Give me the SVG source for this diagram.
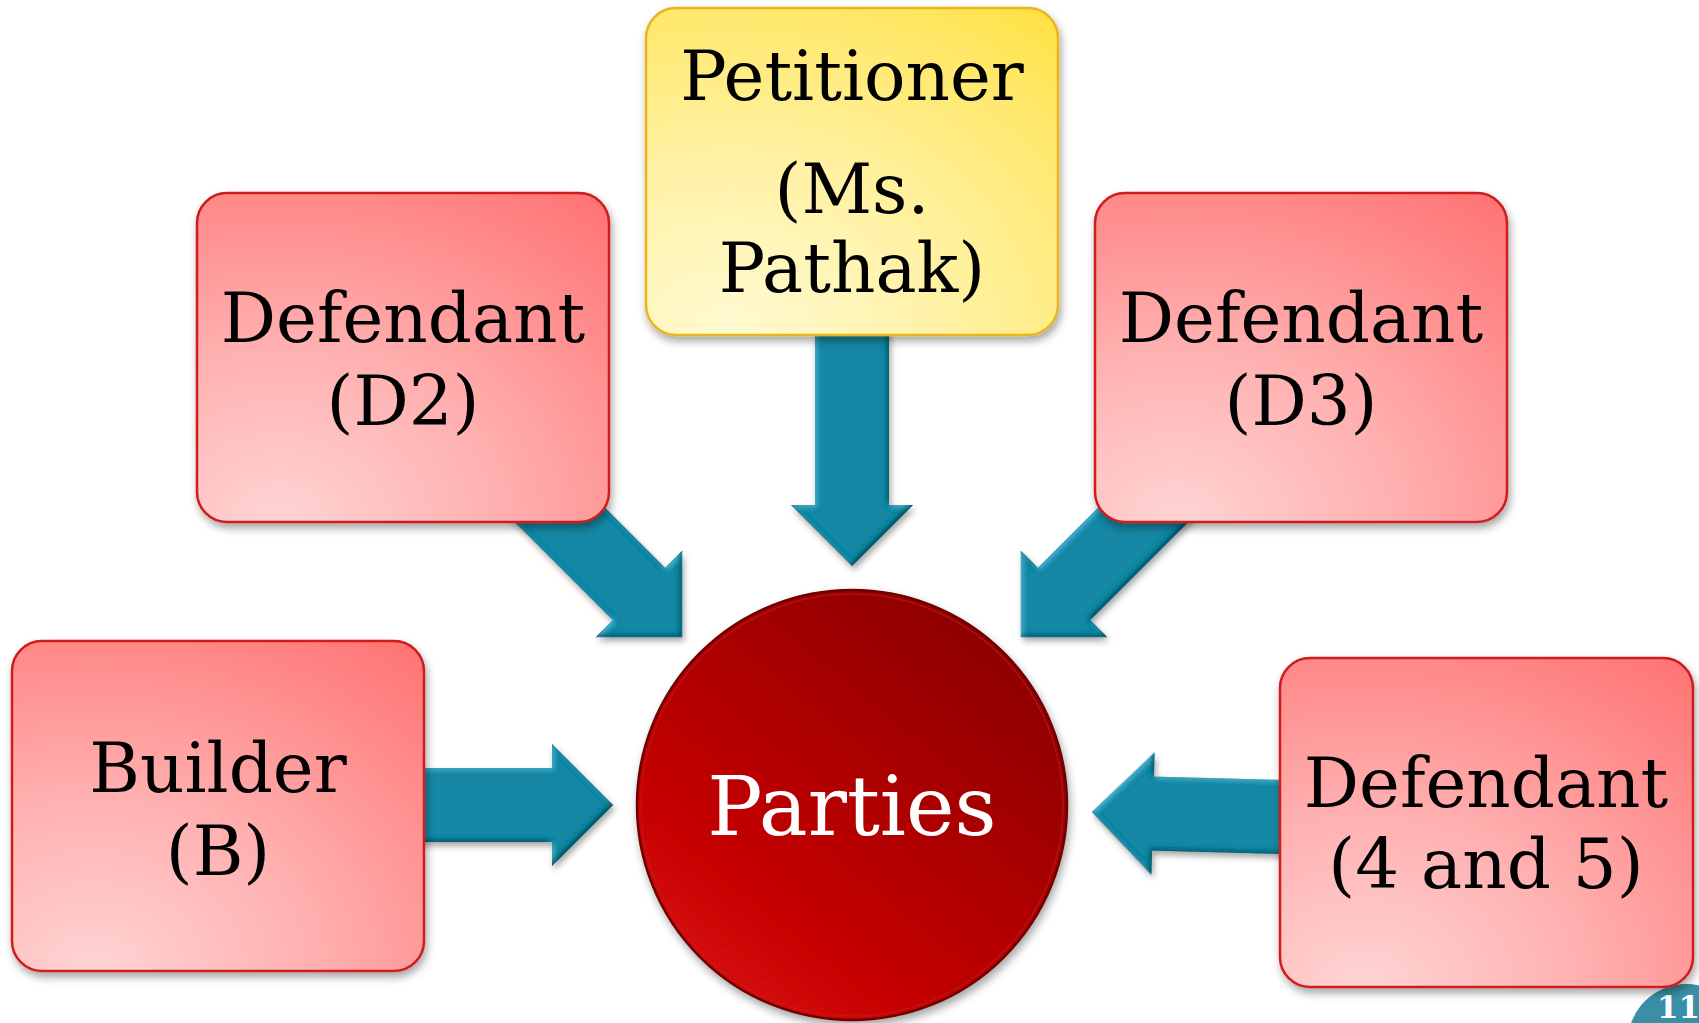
<svg xmlns="http://www.w3.org/2000/svg" xmlns:xlink="http://www.w3.org/1999/xlink" width="1699" height="1023" viewBox="0 0 1699 1023">
  <defs>
    <radialGradient id="redFill" cx="0.2" cy="1.0" r="1.3">
      <stop offset="0" stop-color="#ffd4d4"/>
      <stop offset="0.4" stop-color="#ffb1b1"/>
      <stop offset="0.8" stop-color="#ff8585"/>
      <stop offset="1" stop-color="#ff7070"/>
    </radialGradient>
    <radialGradient id="yellowFill" cx="0.2" cy="1.0" r="1.3">
      <stop offset="0" stop-color="#fffad2"/>
      <stop offset="0.4" stop-color="#fff2a6"/>
      <stop offset="0.8" stop-color="#ffe766"/>
      <stop offset="1" stop-color="#ffe03a"/>
    </radialGradient>
    <linearGradient id="hubFill" x1="0.2" y1="0.9" x2="0.85" y2="0.1">
      <stop offset="0" stop-color="#d40707"/>
      <stop offset="0.55" stop-color="#ad0404"/>
      <stop offset="1" stop-color="#8c0000"/>
    </linearGradient>
    <filter id="boxShadow" x="-10%" y="-10%" width="125%" height="125%">
      <feDropShadow dx="2" dy="5" stdDeviation="4" flood-color="#000" flood-opacity="0.35"/>
    </filter>
    <filter id="arrowBevel" x="-10%" y="-10%" width="125%" height="125%">
      <feComponentTransfer in="SourceAlpha" result="inv">
        <feFuncA type="table" tableValues="1 0"/>
      </feComponentTransfer>
      <feGaussianBlur in="inv" stdDeviation="2.5" result="invBlur"/>
      <feOffset in="invBlur" dx="-2" dy="-2" result="invOff"/>
      <feFlood flood-color="#06313b" flood-opacity="0.9"/>
      <feComposite in2="invOff" operator="in"/>
      <feComposite in2="SourceAlpha" operator="in" result="innerDark"/>
      <feOffset in="invBlur" dx="2" dy="2" result="invOff2"/>
      <feFlood flood-color="#5fd0ee" flood-opacity="0.55"/>
      <feComposite in2="invOff2" operator="in"/>
      <feComposite in2="SourceAlpha" operator="in" result="innerLight"/>
      <feGaussianBlur in="SourceAlpha" stdDeviation="3" result="sb"/>
      <feOffset in="sb" dx="2" dy="4" result="so"/>
      <feFlood flood-color="#000" flood-opacity="0.35"/>
      <feComposite in2="so" operator="in" result="drop"/>
      <feMerge>
        <feMergeNode in="drop"/>
        <feMergeNode in="SourceGraphic"/>
        <feMergeNode in="innerLight"/>
        <feMergeNode in="innerDark"/>
      </feMerge>
    </filter>
    <!-- block arrow pointing along +x, apex at the origin -->
    <path id="blockArrow" d="M0,0 L-61,-61 L-61,-37 L-261,-37 L-261,37 L-61,37 L-61,61 Z"/>
  </defs>

  <style>
    .box { stroke-width: 2.5; filter: url(#boxShadow); }
    .red { fill: url(#redFill); stroke: #cf1c1c; }
    .yellow { fill: url(#yellowFill); stroke: #e9b51d; }
    .label { font-family: "DejaVu Serif", "Liberation Serif", serif; font-size: 69px; fill: #000; text-anchor: middle; }
    .hubLabel { font-family: "DejaVu Serif", "Liberation Serif", serif; font-size: 82px; fill: #fff; text-anchor: middle; }
    .arrow { fill: #1588a5; }
    .pageNo { font-family: "DejaVu Serif", "Liberation Serif", serif; font-size: 31px; font-weight: bold; fill: #fff; }
  </style>

  <rect width="1699" height="1023" fill="#ffffff"/>

  <!-- slide number badge -->
  <g id="page-number">
    <circle cx="1686" cy="1042" r="58" fill="#3a8fa6"/>
    <text class="pageNo" x="1657" y="1018">11</text>
  </g>

  <!-- connectors -->
  <g id="connectors" filter="url(#arrowBevel)">
    <use xlink:href="#blockArrow" class="arrow" transform="translate(852,566) rotate(90)"/>
    <use xlink:href="#blockArrow" class="arrow" transform="translate(682,637) rotate(45)"/>
    <use xlink:href="#blockArrow" class="arrow" transform="translate(1021,637) rotate(135)"/>
    <use xlink:href="#blockArrow" class="arrow" transform="translate(613,805)"/>
    <use xlink:href="#blockArrow" class="arrow" transform="translate(1092,812) rotate(181.5)"/>
  </g>

  <g id="node-hub">
    <circle cx="852" cy="805" r="215" fill="url(#hubFill)" stroke="#6e0000" stroke-width="2.5" filter="url(#boxShadow)"/>
    <circle cx="852" cy="805" r="211" fill="none" stroke="#c31a1a" stroke-width="1.5" opacity="0.6"/>
    <text class="hubLabel" x="852" y="835">Parties</text>
  </g>

  <g id="node-petitioner">
    <rect class="box yellow" x="646" y="8" width="412" height="327" rx="30" ry="30"/>
    <text class="label" x="852" y="100">Petitioner</text>
    <text class="label" x="852" y="213">(Ms.</text>
    <text class="label" x="852" y="292">Pathak)</text>
  </g>

  <g id="node-d2">
    <rect class="box red" x="197" y="193" width="412" height="329" rx="30" ry="30"/>
    <text class="label" x="403" y="342">Defendant</text>
    <text class="label" x="403" y="425">(D2)</text>
  </g>

  <g id="node-d3">
    <rect class="box red" x="1095" y="193" width="412" height="329" rx="30" ry="30"/>
    <text class="label" x="1301" y="342">Defendant</text>
    <text class="label" x="1301" y="425">(D3)</text>
  </g>

  <g id="node-builder">
    <rect class="box red" x="12" y="641" width="412" height="330" rx="30" ry="30"/>
    <text class="label" x="218" y="792">Builder</text>
    <text class="label" x="218" y="875">(B)</text>
  </g>

  <g id="node-d45">
    <rect class="box red" x="1280" y="658" width="413" height="329" rx="30" ry="30"/>
    <text class="label" x="1486" y="807">Defendant</text>
    <text class="label" x="1486" y="888" font-size="67">(4 and 5)</text>
  </g>
</svg>
